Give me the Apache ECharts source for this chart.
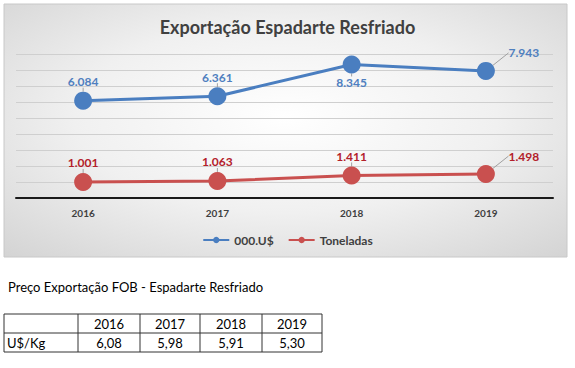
<!DOCTYPE html>
<html>
<head>
<meta charset="utf-8">
<script src="https://cdn.jsdelivr.net/npm/echarts@6/dist/echarts.min.js"></script>
<style>
html,body{margin:0;padding:0;background:#fff;}
#chart{width:575px;height:368px;}
</style>
</head>
<body>
<div id="chart"></div>
<script>
const years = ['2016', '2017', '2018', '2019'];
const valorMilUSD = [6084, 6361, 8345, 7943];
const toneladas = [1001, 1063, 1411, 1498];
const precoKg = ['6,08', '5,98', '5,91', '5,30'];
const yTicks = { min: 0, max: 9000, interval: 1000 };
const chartTitle = 'Exportação Espadarte Resfriado';
const tableTitle = 'Preço Exportação FOB - Espadarte Resfriado';
const tableRowLabel = 'U$/Kg';

const fmt = v => (v / 1000).toFixed(3);
const FONT = 'Lato, "Open Sans", sans-serif';

const chart = echarts.init(document.getElementById('chart'), null, { renderer: 'svg' });

// table graphics
const colX = [4, 78, 140, 200, 262, 322];
const rowY = [314, 333, 352];
const tableEls = [];
tableEls.push({ type: 'rect', shape: { x: colX[0], y: rowY[0], width: colX[5] - colX[0], height: rowY[2] - rowY[0] }, style: { fill: 'none', stroke: '#333', lineWidth: 1 } });
tableEls.push({ type: 'line', shape: { x1: colX[0], y1: rowY[1], x2: colX[5], y2: rowY[1] }, style: { stroke: '#333', lineWidth: 1 } });
for (let i = 1; i < 5; i++) {
  tableEls.push({ type: 'line', shape: { x1: colX[i], y1: rowY[0], x2: colX[i], y2: rowY[2] }, style: { stroke: '#333', lineWidth: 1 } });
}
years.forEach((y, i) => {
  const cx = (colX[i + 1] + colX[i + 2]) / 2;
  tableEls.push({ type: 'text', x: cx, y: (rowY[0] + rowY[1]) / 2, style: { text: y, fill: '#000', font: '13px ' + FONT, textAlign: 'center', textVerticalAlign: 'middle' } });
  tableEls.push({ type: 'text', x: cx, y: (rowY[1] + rowY[2]) / 2, style: { text: precoKg[i], fill: '#000', font: '13px ' + FONT, textAlign: 'center', textVerticalAlign: 'middle' } });
});
tableEls.push({ type: 'text', x: colX[0] + 3, y: (rowY[1] + rowY[2]) / 2, style: { text: tableRowLabel, fill: '#000', font: '13px ' + FONT, textAlign: 'left', textVerticalAlign: 'middle' } });

const moveLast = params => params.dataIndex === 3 ? { dx: 38, dy: 1 } : {};

chart.setOption({
  backgroundColor: '#fff',
  animation: false,
  title: {
    text: chartTitle, left: 'center', top: 13,
    textStyle: { fontFamily: FONT, fontSize: 18, fontWeight: 'bold', color: '#404040' }
  },
  graphic: [
    {
      type: 'rect', z: -10, silent: true,
      shape: { x: 4, y: 4, width: 563, height: 253 },
      style: {
        fill: { type: 'radial', x: 0.5, y: 0.45, r: 0.75, colorStops: [{ offset: 0, color: '#ffffff' }, { offset: 0.5, color: '#f0f0f0' }, { offset: 1, color: '#d3d3d3' }] },
        stroke: '#c8c8c8', lineWidth: 1
      }
    },
    {
      type: 'text', left: 8, top: 280,
      style: { text: tableTitle, fill: '#000', font: '13px ' + FONT }
    },
    { type: 'group', children: tableEls }
  ],
  legend: {
    data: ['000.U$', 'Toneladas'], left: 'center', top: 229,
    itemWidth: 26, itemHeight: 8, itemGap: 14,
    textStyle: { fontFamily: FONT, fontSize: 12, fontWeight: 'bold', color: '#404040' }
  },
  grid: { left: 16, right: 22, top: 54, bottom: 170 },
  xAxis: {
    type: 'category', data: years, boundaryGap: true,
    axisLine: { lineStyle: { color: '#1a1a1a', width: 2 } },
    axisTick: { show: false },
    axisLabel: { margin: 10, fontFamily: FONT, fontSize: 10, fontWeight: 'bold', color: '#404040' }
  },
  yAxis: {
    type: 'value', min: yTicks.min, max: yTicks.max, interval: yTicks.interval,
    axisLabel: { show: false }, axisLine: { show: false }, axisTick: { show: false },
    splitLine: { lineStyle: { color: '#cfcfcf', width: 1 } }
  },
  series: [
    {
      name: '000.U$', type: 'line', data: valorMilUSD.map((v, i) => i === 2 ? { value: v, label: { position: 'bottom', distance: 3 } } : v),
      symbol: 'circle', symbolSize: 18,
      itemStyle: { color: '#4a7ec0' },
      lineStyle: { color: '#4a7ec0', width: 3 },
      label: { show: true, position: 'top', distance: 4, formatter: p => fmt(p.value), fontFamily: FONT, fontSize: 12, fontWeight: 'bold', color: '#4f7fbf' },
      labelLayout: moveLast,
      labelLine: { show: true, lineStyle: { color: '#a0a0a0', width: 1 } }
    },
    {
      name: 'Toneladas', type: 'line', data: toneladas,
      symbol: 'circle', symbolSize: 18,
      itemStyle: { color: '#c9504f' },
      lineStyle: { color: '#c9504f', width: 3 },
      label: { show: true, position: 'top', distance: 4, formatter: p => fmt(p.value), fontFamily: FONT, fontSize: 12, fontWeight: 'bold', color: '#b3202a' },
      labelLayout: moveLast,
      labelLine: { show: true, lineStyle: { color: '#a0a0a0', width: 1 } }
    }
  ]
});
</script>
</body>
</html>
